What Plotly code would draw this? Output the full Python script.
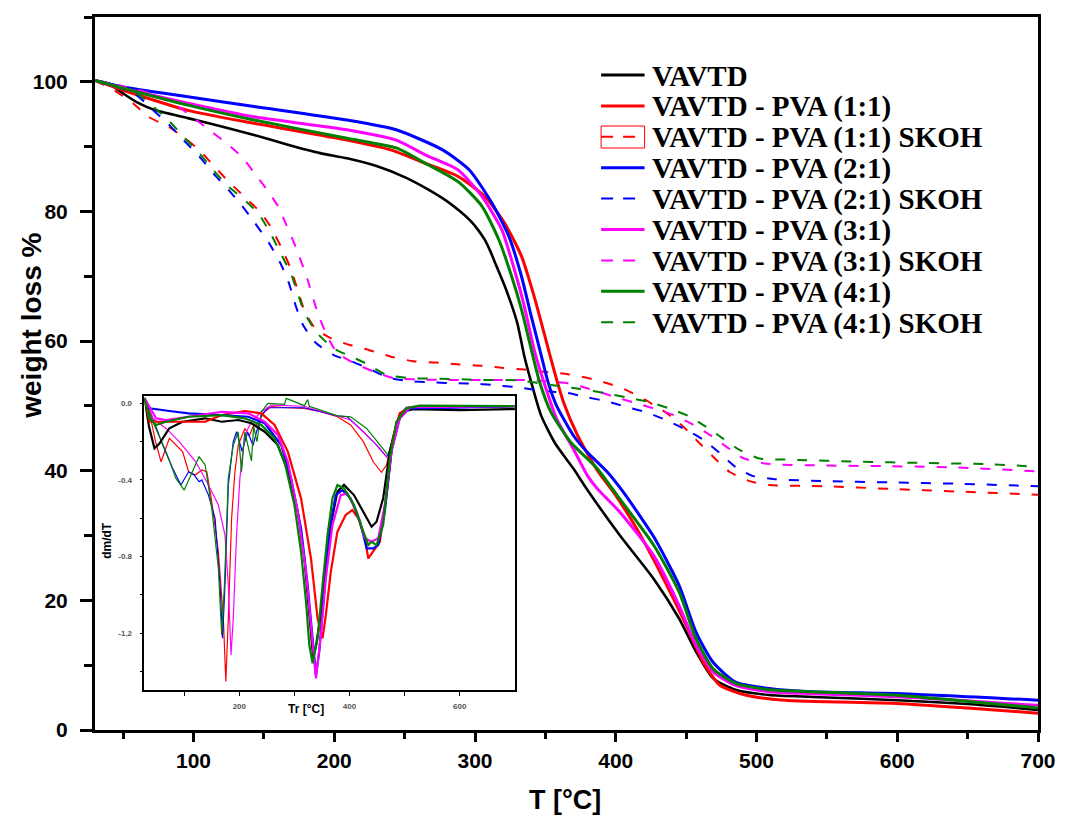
import plotly.graph_objects as go

# ---------------- main TGA data (T in °C, weight %) ----------------
T_vavtd = [30, 40, 50, 61, 73, 96, 120, 143, 167, 190, 209, 230, 250, 265, 280, 290, 297, 302, 307, 311, 315, 322, 330, 335, 340, 347, 357, 370, 380, 403, 427, 445, 457, 469, 485, 509, 540, 600, 650, 700]
W_vavtd = [100.2, 99.7, 98.2, 96.7, 95.6, 94.4, 93.1, 91.8, 90.3, 89.0, 88.2, 87.0, 85.3, 83.6, 81.6, 79.9, 78.5, 77.2, 75.6, 73.8, 71.7, 68.0, 62.8, 57.7, 53.6, 48.5, 44.2, 40.3, 37.0, 30.0, 23.3, 17.2, 12.1, 8.0, 6.2, 5.4, 5.1, 4.6, 4.0, 3.1]

T_11 = [30, 50, 96, 143, 209, 240, 265, 288, 307, 321, 333, 342, 349, 356, 363, 373, 387, 399, 415, 434, 450, 462, 474, 492, 520, 600, 650, 700]
W_11 = [100.2, 98.7, 95.6, 93.6, 91.0, 89.5, 87.4, 85.4, 82.3, 78.2, 73.1, 66.9, 61.3, 55.6, 50.5, 45.4, 40.0, 36.5, 31.0, 23.3, 16.2, 10.5, 6.9, 5.4, 4.6, 4.1, 3.4, 2.6]

T_21 = [30, 50, 96, 143, 209, 244, 277, 296, 312, 324, 333, 340, 346, 352, 358, 370, 380, 394, 405, 427, 445, 457, 469, 485, 509, 539, 604, 700]
W_21 = [100.2, 99.2, 97.7, 96.2, 94.1, 92.6, 89.5, 86.4, 81.3, 76.2, 70.0, 63.8, 58.7, 53.6, 50.0, 45.4, 42.8, 39.8, 36.8, 29.8, 22.3, 15.1, 10.5, 7.4, 6.4, 5.9, 5.6, 4.6]

T_31 = [30, 50, 96, 143, 209, 244, 265, 288, 305, 319, 328, 335, 342, 349, 358, 370, 380, 387, 403, 427, 445, 457, 469, 485, 509, 539, 604, 700]
W_31 = [100.2, 99.0, 96.7, 94.6, 92.6, 91.0, 88.7, 86.4, 82.3, 77.2, 71.0, 65.4, 58.7, 53.6, 48.0, 43.3, 39.2, 37.2, 33.6, 26.9, 19.2, 13.1, 9.0, 6.9, 5.9, 5.6, 5.1, 3.8]

T_41 = [30, 50, 96, 143, 209, 244, 265, 288, 305, 317, 326, 333, 340, 346, 354, 368, 380, 387, 401, 427, 445, 457, 469, 485, 509, 539, 604, 700]
W_41 = [100.2, 99.0, 96.4, 94.1, 91.3, 89.8, 87.4, 84.6, 80.8, 75.6, 70.0, 64.9, 58.7, 53.6, 49.0, 44.4, 41.8, 40.3, 36.2, 28.5, 21.3, 14.1, 9.5, 7.2, 6.2, 5.9, 5.3, 3.4]

T_11s = [30, 45, 57, 68, 82, 92, 104, 115, 125, 136, 147, 154, 162, 169, 174, 179, 186, 197, 211, 225, 242, 256, 272, 289, 305, 319, 335, 352, 366, 380, 394, 408, 422, 436, 448, 457, 469, 481, 495, 509, 549, 595, 642, 700]
W_11s = [100.2, 98.5, 96.7, 94.6, 93.1, 91.6, 89.5, 86.9, 84.6, 82.3, 80.0, 77.9, 74.6, 71.2, 67.9, 64.6, 62.1, 60.5, 59.4, 58.6, 57.5, 56.9, 56.7, 56.4, 56.2, 55.9, 55.6, 55.2, 54.9, 54.3, 53.5, 52.4, 50.8, 48.9, 46.8, 44.8, 42.2, 39.8, 38.4, 37.8, 37.6, 37.2, 36.8, 36.3]

T_21s = [30, 40, 59, 71, 82, 93, 104, 114, 125, 134, 143, 154, 162, 168, 173, 178, 187, 200, 212, 225, 239, 256, 272, 286, 303, 319, 333, 349, 366, 380, 394, 408, 422, 436, 450, 462, 474, 485, 497, 513, 549, 595, 642, 700]
W_21s = [100.2, 99.7, 98.0, 95.7, 93.5, 91.0, 88.5, 85.9, 83.3, 81.0, 78.4, 75.0, 71.9, 68.8, 65.2, 62.4, 59.7, 57.8, 56.9, 55.7, 54.3, 53.8, 53.6, 53.5, 53.4, 53.1, 52.8, 52.3, 52.0, 51.3, 50.7, 49.8, 49.0, 47.8, 46.3, 44.8, 42.7, 40.6, 39.2, 38.7, 38.4, 38.2, 38.0, 37.6]

T_31s = [30, 50, 73, 87, 99, 111, 123, 134, 143, 153, 160, 166, 173, 181, 188, 195, 202, 214, 228, 242, 258, 277, 296, 320, 338, 366, 385, 399, 413, 427, 441, 455, 467, 478, 490, 506, 549, 595, 642, 700]
W_31s = [100.2, 99.3, 98.0, 96.5, 94.6, 92.6, 90.6, 88.5, 86.0, 83.1, 80.8, 77.9, 74.3, 69.5, 64.5, 60.8, 58.2, 56.6, 55.3, 54.3, 54.1, 54.0, 54.0, 54.0, 54.0, 53.5, 52.4, 51.4, 50.5, 49.6, 48.6, 47.1, 45.5, 43.8, 42.0, 41.1, 40.8, 40.7, 40.5, 39.9]

T_41s = [30, 45, 59, 82, 93, 104, 114, 125, 135, 146, 154, 162, 169, 174, 179, 188, 200, 211, 224, 237, 253, 272, 291, 305, 319, 333, 352, 375, 392, 408, 422, 438, 452, 464, 476, 488, 502, 525, 572, 619, 666, 700]
W_41s = [100.2, 99.2, 98.3, 94.1, 91.5, 89.0, 86.4, 83.8, 82.0, 79.7, 76.9, 73.5, 70.5, 67.4, 64.3, 61.2, 58.8, 57.7, 56.4, 54.8, 54.3, 54.2, 54.1, 54.0, 54.0, 53.9, 53.3, 52.6, 52.0, 51.3, 50.7, 49.6, 48.4, 46.8, 45.0, 43.2, 41.9, 41.7, 41.4, 41.2, 41.0, 40.6]

# ---------------- inset DTG data (Tr in °C, dm/dT) ----------------
Td_vavtd = [28, 36, 46, 55, 73, 97, 138, 168, 198, 222, 246, 270, 288, 306, 318, 328, 334, 340, 348, 354, 366, 378, 390, 408, 425, 440, 449, 461, 473, 485, 497, 515, 600, 700]
D_vavtd = [0.03, -0.12, -0.235, -0.21, -0.13, -0.096, -0.078, -0.096, -0.087, -0.104, -0.148, -0.218, -0.357, -0.566, -0.81, -1.12, -1.33, -1.25, -1.1, -0.914, -0.635, -0.461, -0.426, -0.479, -0.566, -0.644, -0.618, -0.496, -0.252, -0.113, -0.044, -0.03, -0.035, -0.03]

Td_11 = [28, 37, 55, 108, 138, 168, 210, 240, 264, 288, 312, 330, 342, 351, 357, 366, 378, 393, 405, 416, 428, 434, 443, 455, 467, 479, 491, 510, 700]
D_11 = [0.026, -0.096, -0.096, -0.096, -0.096, -0.061, -0.04, -0.052, -0.113, -0.252, -0.496, -0.81, -1.123, -1.227, -1.105, -0.879, -0.67, -0.583, -0.557, -0.601, -0.705, -0.81, -0.775, -0.723, -0.479, -0.183, -0.052, -0.02, -0.015]

Td_21 = [28, 37, 73, 108, 168, 216, 246, 276, 294, 312, 324, 333, 339, 345, 354, 363, 375, 387, 402, 419, 431, 443, 452, 464, 476, 491, 509, 700]
D_21 = [0.026, -0.026, -0.04, -0.052, -0.061, -0.07, -0.104, -0.218, -0.392, -0.653, -0.949, -1.227, -1.419, -1.297, -0.984, -0.67, -0.479, -0.453, -0.496, -0.618, -0.757, -0.757, -0.74, -0.566, -0.252, -0.078, -0.026, -0.015]

Td_31 = [28, 49, 67, 108, 168, 216, 246, 270, 288, 306, 321, 330, 339, 348, 357, 369, 384, 396, 413, 428, 440, 452, 464, 476, 491, 510, 700]
D_31 = [0.026, -0.078, -0.087, -0.07, -0.044, -0.052, -0.096, -0.165, -0.305, -0.566, -0.879, -1.158, -1.436, -1.21, -0.914, -0.635, -0.479, -0.47, -0.566, -0.705, -0.723, -0.705, -0.531, -0.252, -0.078, -0.02, -0.015]

Td_41 = [28, 37, 49, 67, 108, 168, 210, 240, 264, 282, 300, 312, 321, 327, 333, 342, 351, 360, 369, 378, 390, 408, 425, 434, 440, 449, 461, 473, 485, 503, 527, 700]
D_41 = [0.026, -0.078, -0.113, -0.096, -0.07, -0.061, -0.078, -0.113, -0.183, -0.305, -0.531, -0.775, -1.036, -1.262, -1.358, -1.227, -0.949, -0.688, -0.496, -0.426, -0.444, -0.531, -0.67, -0.74, -0.723, -0.74, -0.635, -0.287, -0.096, -0.026, -0.012, -0.015]

Td_11s = [28, 37, 48, 58, 73, 97, 108, 120, 132, 141, 150, 162, 171, 175.5, 180, 186, 192, 198, 210, 218, 225, 231, 246, 258, 288, 318, 348, 378, 402, 425, 443, 458, 467, 479, 491, 510, 700]
D_11s = [0.026, -0.05, -0.2, -0.305, -0.183, -0.252, -0.357, -0.374, -0.348, -0.357, -0.514, -0.775, -1.123, -1.453, -1.123, -0.6, -0.357, -0.218, -0.131, -0.17, -0.12, -0.113, -0.044, -0.017, -0.023, -0.026, -0.044, -0.07, -0.113, -0.2, -0.305, -0.36, -0.322, -0.165, -0.061, -0.02, -0.015]

Td_21s = [28, 43, 61, 79, 94, 108, 118, 127, 132, 144, 156, 165, 169.5, 174, 180, 189, 195, 205, 215, 225, 231, 240, 252, 318, 378, 396, 425, 449, 467, 476, 485, 500, 700]
D_21s = [0.026, -0.078, -0.218, -0.339, -0.426, -0.357, -0.374, -0.409, -0.4, -0.479, -0.6, -0.949, -1.227, -0.949, -0.426, -0.2, -0.148, -0.25, -0.15, -0.22, -0.15, -0.061, -0.023, -0.023, -0.065, -0.07, -0.148, -0.218, -0.279, -0.235, -0.096, -0.03, -0.015]

Td_31s = [28, 43, 67, 91, 121, 144, 162, 174, 180, 185, 189, 195, 201, 210, 222, 240, 258, 318, 378, 402, 431, 455, 470, 479, 488, 503, 700]
D_31s = [0.026, -0.078, -0.131, -0.2, -0.305, -0.426, -0.531, -0.688, -0.949, -1.314, -1.123, -0.688, -0.392, -0.165, -0.096, -0.044, -0.009, -0.015, -0.066, -0.087, -0.165, -0.235, -0.287, -0.19, -0.08, -0.02, -0.015]

Td_41s = [28, 43, 67, 85, 100, 115, 127, 138, 150, 162, 168, 173, 180, 189, 198, 204, 210, 222, 226, 232, 240, 252, 282, 285, 318, 324, 327, 378, 402, 431, 455, 470, 479, 488, 503, 700]
D_41s = [0.026, -0.096, -0.252, -0.392, -0.453, -0.357, -0.279, -0.322, -0.548, -0.862, -1.21, -0.949, -0.392, -0.218, -0.15, -0.357, -0.15, -0.3, -0.12, -0.2, -0.044, 0.0, -0.005, 0.026, -0.012, 0.02, -0.015, -0.065, -0.07, -0.131, -0.218, -0.27, -0.18, -0.08, -0.026, -0.015]

labels = ["VAVTD", "VAVTD - PVA (1:1)", "VAVTD - PVA (1:1) SKOH", "VAVTD - PVA (2:1)",
          "VAVTD - PVA (2:1) SKOH", "VAVTD - PVA (3:1)", "VAVTD - PVA (3:1) SKOH",
          "VAVTD - PVA (4:1)", "VAVTD - PVA (4:1) SKOH"]
x_ticks = [100, 200, 300, 400, 500, 600, 700]
y_ticks = [0, 20, 40, 60, 80, 100]
inset_x_ticks = [200, 400, 600]
inset_y_ticks = [0.0, -0.4, -0.8, -1.2]
inset_y_ticktext = ["0.0", "-0.4", "-0.8", "-1.2"]

BLACK, RED, BLUE, MAG, GREEN = "#000000", "#ff0000", "#0000ff", "#ff00ff", "#008000"
DASH = "10px,12px"

main_series = [
    (T_vavtd, W_vavtd, BLACK, "solid", 2.6),
    (T_11, W_11, RED, "solid", 3),
    (T_11s, W_11s, RED, DASH, 2),
    (T_21, W_21, BLUE, "solid", 3),
    (T_21s, W_21s, BLUE, DASH, 2),
    (T_31, W_31, MAG, "solid", 3),
    (T_31s, W_31s, MAG, DASH, 2),
    (T_41, W_41, GREEN, "solid", 3),
    (T_41s, W_41s, GREEN, DASH, 2),
]
inset_series = [
    (Td_11s, D_11s, RED, 1.2),
    (Td_21s, D_21s, BLUE, 1.2),
    (Td_31s, D_31s, MAG, 1.2),
    (Td_41s, D_41s, GREEN, 1.2),
    (Td_vavtd, D_vavtd, BLACK, 2.2),
    (Td_11, D_11, RED, 2.2),
    (Td_21, D_21, BLUE, 2.2),
    (Td_31, D_31, MAG, 2.2),
    (Td_41, D_41, GREEN, 2.2),
]

fig = go.Figure()
for (tx, wy, col, dash, lw), name in zip(main_series, labels):
    fig.add_trace(go.Scatter(x=tx, y=wy, mode="lines", name=name, showlegend=False,
                             line=dict(color=col, dash=dash, width=lw, shape="spline", smoothing=0.6),
                             xaxis="x", yaxis="y"))
for tx, dy, col, lw in inset_series:
    fig.add_trace(go.Scatter(x=tx, y=dy, mode="lines", showlegend=False,
                             line=dict(color=col, width=lw), xaxis="x2", yaxis="y2"))

# geometry helpers (pixel -> paper)
W_FIG, H_FIG = 1068, 818
ML, MR, MT, MB = 95, 19, 17, 88
PW, PH = W_FIG - ML - MR, H_FIG - MT - MB
def px(x):
    return (x - ML) / PW
def py(y):
    return (H_FIG - MB - y) / PH

tick_font = dict(family="Arial, Liberation Sans", size=21, color="black", weight="bold")
small_font = dict(family="Arial, Liberation Sans", size=8, color="#555555", weight="bold")

fig.update_layout(
    width=W_FIG, height=H_FIG,
    margin=dict(l=ML, r=MR, t=MT, b=MB, pad=0),
    paper_bgcolor="white", plot_bgcolor="white",
    showlegend=False,
    xaxis=dict(range=[30, 700], tickvals=x_ticks, showgrid=False, zeroline=False,
               showline=True, linewidth=3, linecolor="black", mirror=True,
               ticks="outside", ticklen=9, tickwidth=3, tickcolor="black",
               ticklabelstandoff=1, tickfont=tick_font,
               minor=dict(tickvals=[50, 150, 250, 350, 450, 550, 650], ticks="outside",
                          ticklen=6, tickwidth=2.5, tickcolor="black", showgrid=False)),
    yaxis=dict(range=[0, 110], tickvals=y_ticks, showgrid=False, zeroline=False,
               showline=True, linewidth=3, linecolor="black", mirror=True,
               ticks="outside", ticklen=12, tickwidth=3, tickcolor="black",
               ticklabelstandoff=8, tickfont=tick_font,
               minor=dict(tickvals=[10, 30, 50, 70, 90, 110], ticks="outside",
                          ticklen=8, tickwidth=2.5, tickcolor="black", showgrid=False)),
    xaxis2=dict(domain=[px(145), px(520)], anchor="y2", range=[27.8, 700.4],
                tickvals=inset_x_ticks, showgrid=False, zeroline=False,
                showline=True, linewidth=1.5, linecolor="black", mirror=True,
                ticks="outside", ticklen=4, tickwidth=1, tickcolor="black",
                ticklabelstandoff=4, tickfont=small_font,
                minor=dict(tickvals=[100, 300, 500], ticks="outside", ticklen=4,
                           tickwidth=1, tickcolor="black", showgrid=False)),
    yaxis2=dict(domain=[py(690), py(395.7)], anchor="x2", range=[-1.497, 0.04],
                tickvals=inset_y_ticks, ticktext=inset_y_ticktext, showgrid=False, zeroline=False,
                showline=True, linewidth=1.5, linecolor="black", mirror=True,
                ticks="outside", ticklen=3, tickwidth=1, tickcolor="black",
                ticklabelstandoff=6, tickfont=small_font,
                minor=dict(tickvals=[-0.2, -0.6, -1.0, -1.4], ticks="outside", ticklen=3,
                           tickwidth=1, tickcolor="black", showgrid=False)),
)

annotations = [
    dict(text="weight loss %", x=px(30), y=py(326), xref="paper", yref="paper",
         textangle=-90, showarrow=False, xanchor="center", yanchor="middle",
         font=dict(family="Arial, Liberation Sans", size=28, color="black", weight="bold")),
    dict(text="T [°C]", x=px(570), y=py(800), xref="paper", yref="paper",
         showarrow=False, xanchor="center", yanchor="middle",
         font=dict(family="Arial, Liberation Sans", size=27, color="black", weight="bold")),
    dict(text="dm/dT", x=px(107), y=py(540), xref="paper", yref="paper",
         textangle=-90, showarrow=False, xanchor="center", yanchor="middle",
         font=dict(family="Arial, Liberation Sans", size=12, color="black", weight="bold")),
    dict(text="Tr [°C]", x=px(308), y=py(709), xref="paper", yref="paper",
         showarrow=False, xanchor="center", yanchor="middle",
         font=dict(family="Arial, Liberation Sans", size=12, color="black", weight="bold")),
]

shapes = []
row0, row_gap = 75.0, 30.9
for i, ((tx, wy, col, dash, lw), name) in enumerate(zip(main_series, labels)):
    yc = row0 + i * row_gap
    shapes.append(dict(type="line", xref="paper", yref="paper",
                       x0=px(607), x1=px(651), y0=py(yc), y1=py(yc),
                       line=dict(color=col, width=3 if dash == "solid" else 2,
                                 dash="solid" if dash == "solid" else "12px,10px")))
    annotations.append(dict(text=name, x=px(656), y=py(yc + 1), xref="paper", yref="paper",
                            showarrow=False, xanchor="left", yanchor="middle",
                            font=dict(family="Times New Roman, Liberation Serif", size=29,
                                      color="black", weight="bold")))
# selection box around third legend symbol
shapes.append(dict(type="rect", xref="paper", yref="paper",
                   x0=px(607), x1=px(651), y0=py(148), y1=py(126),
                   line=dict(color=RED, width=1)))

fig.update_layout(annotations=annotations, shapes=shapes)
fig.write_html("out.html")
